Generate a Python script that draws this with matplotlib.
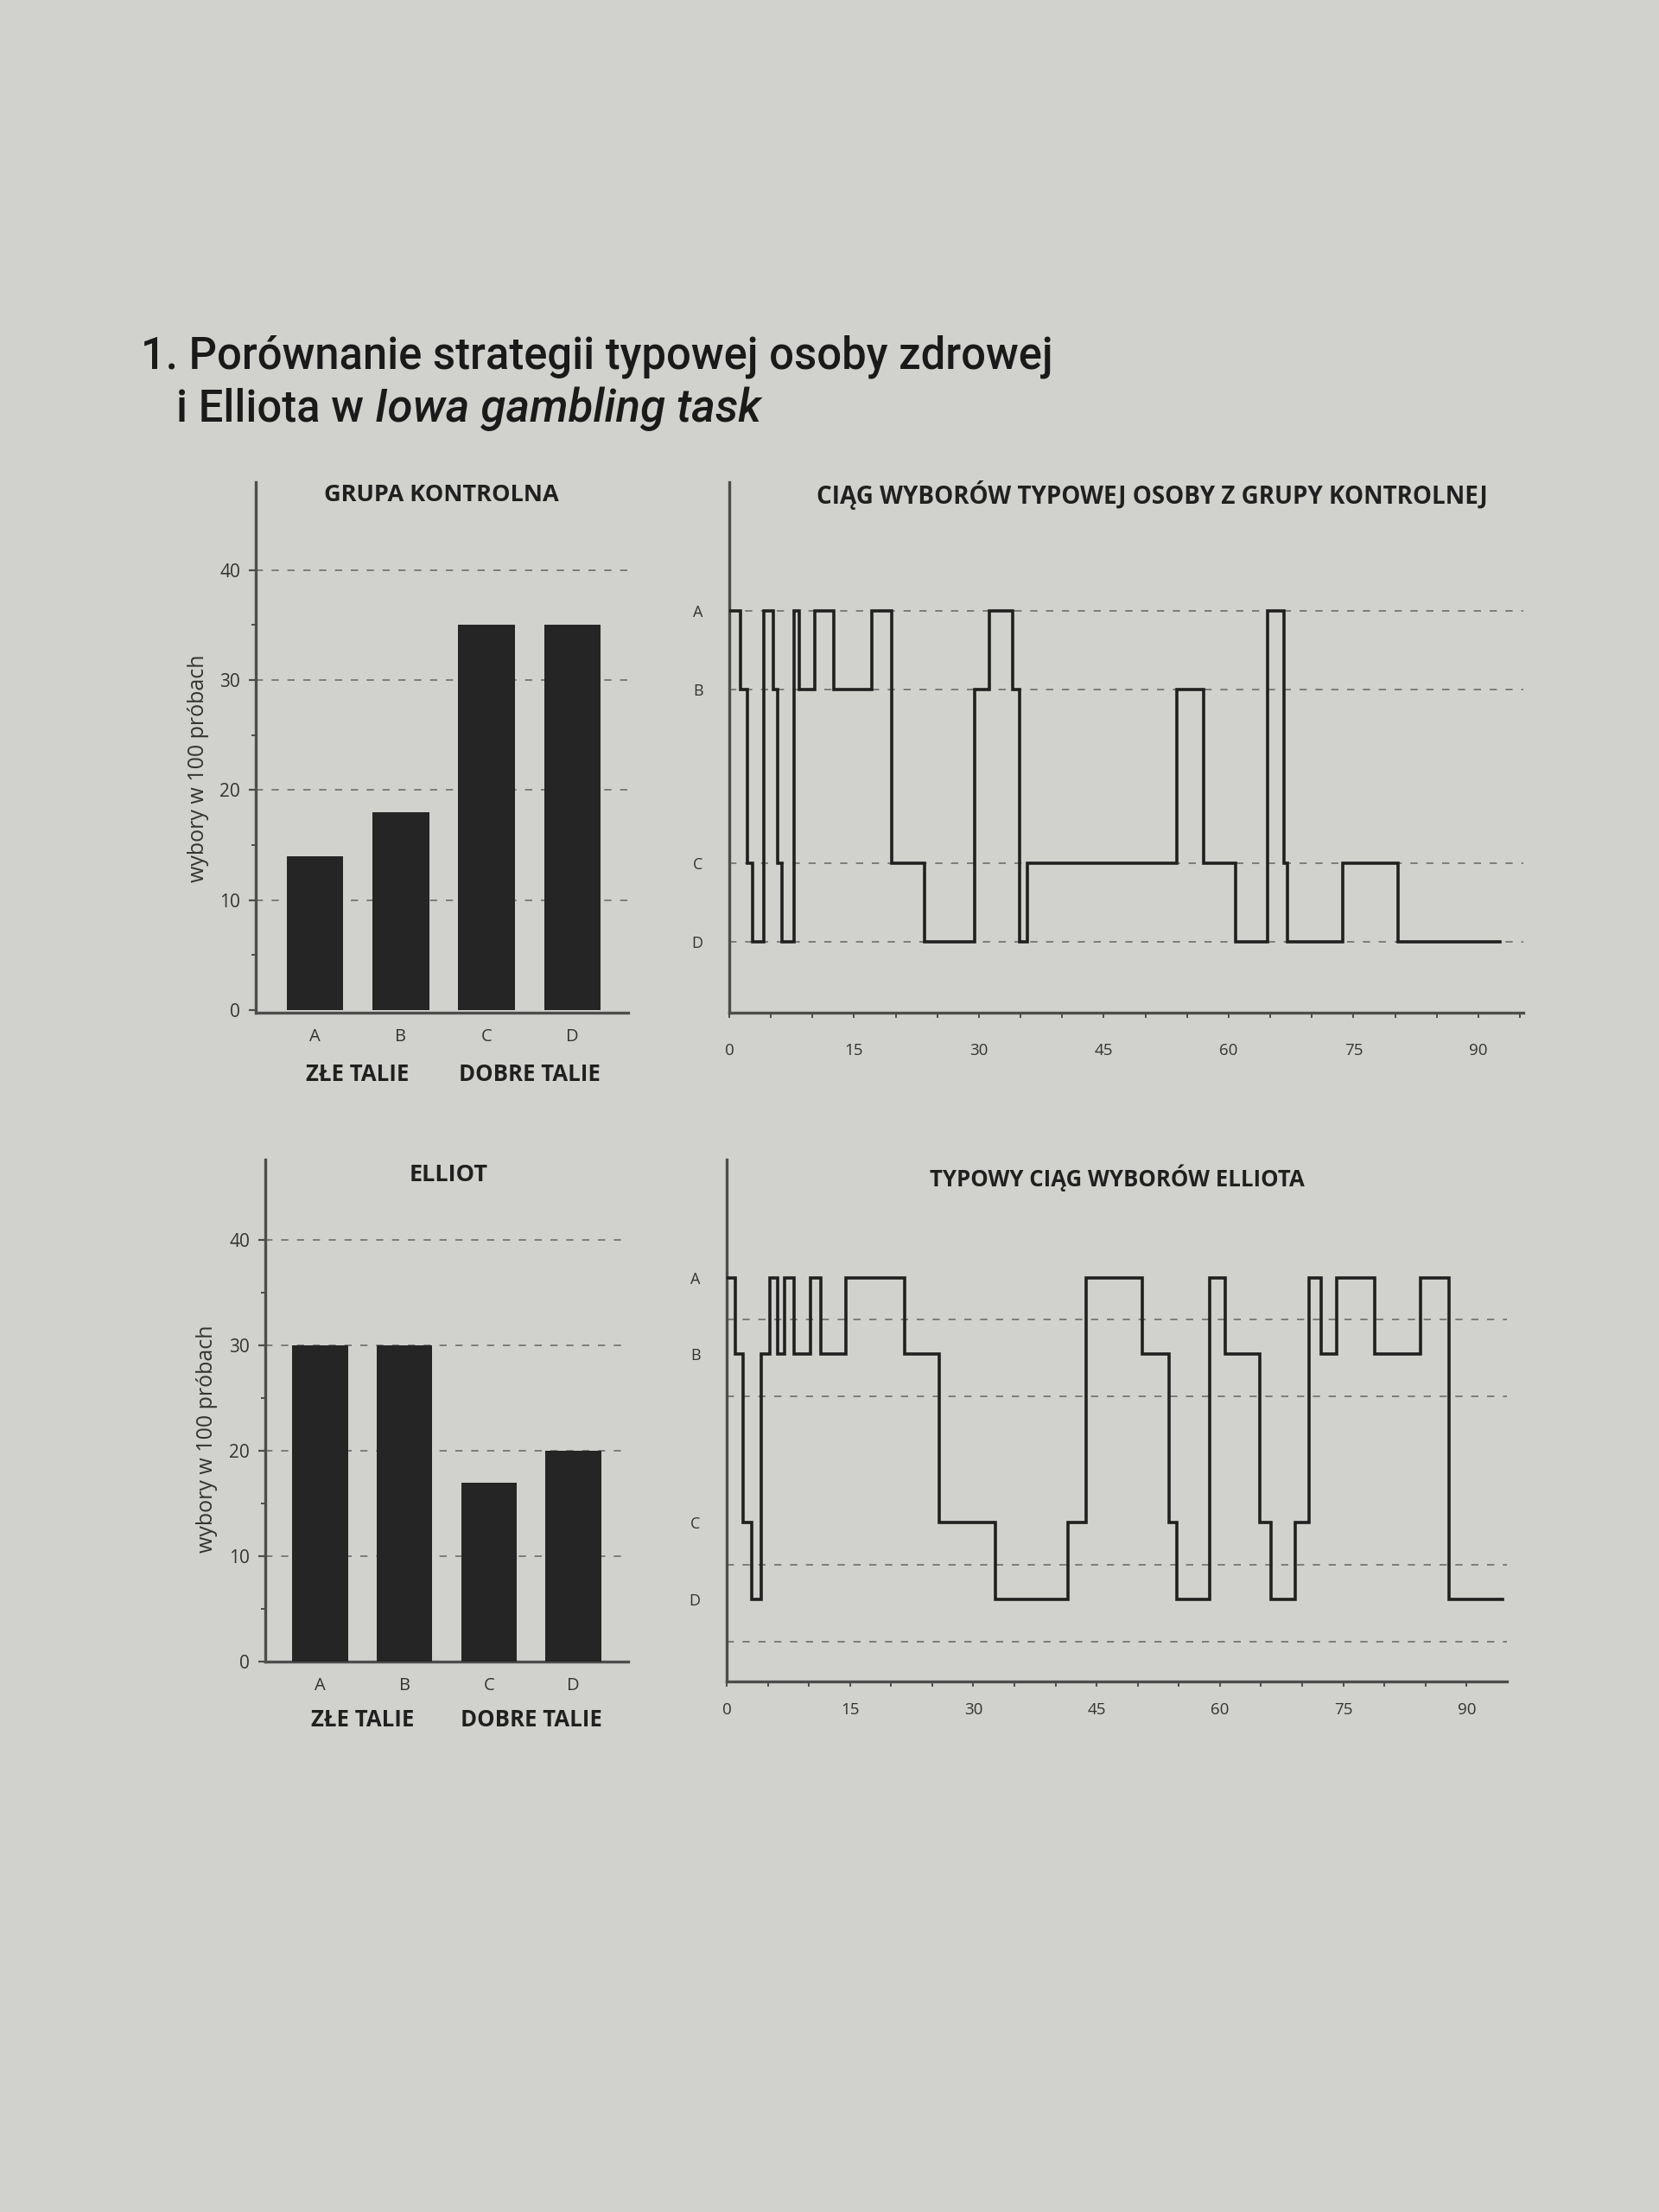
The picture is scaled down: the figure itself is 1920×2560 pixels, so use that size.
import matplotlib
matplotlib.use('Agg')
import matplotlib.pyplot as plt
from matplotlib.ticker import MultipleLocator, FixedLocator
import matplotlib.transforms as mtransforms

# dane: liczba wyborów z każdej talii w 100 próbach
decks = ['A', 'B', 'C', 'D']
control_counts = [14, 18, 35, 35]
elliot_counts = [30, 30, 17, 20]
bar_ticks = [0, 10, 20, 30, 40]
group_labels = ['ZŁE TALIE', 'DOBRE TALIE']

# ciągi wyborów: próba, od której wybierana jest dana talia (ostatni punkt = koniec)
control_trials = [0, 1.3, 2.2, 2.8, 4.2, 5.3, 5.8, 6.3, 7.8, 8.4,
                  10.3, 12.6, 17.1, 19.5, 23.5, 29.5, 31.2, 34.0, 34.9, 35.8,
                  53.8, 57.0, 60.8, 64.7, 66.6, 67.1, 73.7, 80.3, 92.6]
control_choices = ['A', 'B', 'C', 'D', 'A', 'B', 'C', 'D', 'A', 'B',
                   'A', 'B', 'A', 'C', 'D', 'B', 'A', 'B', 'D', 'C',
                   'B', 'C', 'D', 'A', 'C', 'D', 'C', 'D', 'D']
elliot_trials = [0, 1.0, 2.0, 3.0, 4.2, 5.3, 6.2, 7.0, 8.2, 10.2,
                 11.5, 14.5, 21.7, 25.9, 32.7, 41.5, 43.7, 50.6, 53.8, 54.8,
                 58.7, 60.6, 64.8, 66.2, 69.1, 70.8, 72.3, 74.2, 78.8, 84.4,
                 87.9, 94.4]
elliot_choices = ['A', 'B', 'C', 'D', 'B', 'A', 'B', 'A', 'B', 'A',
                  'B', 'A', 'B', 'C', 'D', 'C', 'A', 'B', 'C', 'D',
                  'A', 'B', 'C', 'D', 'C', 'A', 'B', 'A', 'B', 'A',
                  'D', 'D']
trial_ticks = [0, 15, 30, 45, 60, 75, 90]

# położenie talii na osi pionowej wykresów ciągu wyborów
deck_pos = {'A': 4.2, 'B': 3.2, 'C': 1.0, 'D': 0.0}

paper = '#d1d1cd'
ink = '#202020'
axis_col = '#4d4d4d'
grid_col = '#6e6e6e'
sans = ['Open Sans', 'DejaVu Sans']
head = ['Roboto', 'DejaVu Sans']

W, H = 1920, 2560
fig = plt.figure(figsize=(W / 100, H / 100), dpi=100, facecolor=paper)


def rect(left, top, right, bottom):
    return [left / W, 1 - bottom / H, (right - left) / W, (bottom - top) / H]


def style_axes(ax):
    ax.set_facecolor('none')
    for s in ['top', 'right']:
        ax.spines[s].set_visible(False)
    for s in ['left', 'bottom']:
        ax.spines[s].set_color(axis_col)
        ax.spines[s].set_linewidth(2.4)


def bar_panel(ax, counts, title, ylim, xlim, title_xy, label_xy):
    style_axes(ax)
    x = range(len(decks))
    ax.bar(x, counts, width=0.66, color='#252525', zorder=3)
    ax.set_xlim(*xlim)
    ax.set_ylim(*ylim)
    ax.yaxis.set_major_locator(FixedLocator(bar_ticks))
    ax.yaxis.set_minor_locator(FixedLocator([5, 15, 25, 35]))
    ax.tick_params(axis='y', which='major', length=6, width=1.6, color=axis_col,
                   labelsize=15, labelcolor='#333333', pad=7)
    ax.tick_params(axis='y', which='minor', length=3.5, width=1.4, color=axis_col)
    for lab in ax.get_yticklabels():
        lab.set_family(sans)
    ax.set_xticks(list(x))
    ax.set_xticklabels(decks, family=sans, fontsize=14.5, color='#333333')
    ax.tick_params(axis='x', length=0, pad=13)
    for y in bar_ticks[1:]:
        ax.axhline(y, color=grid_col, lw=1.2, ls=(0, (5, 6)), zorder=1)
    tr = mtransforms.blended_transform_factory(ax.transData, ax.transAxes)
    ax.text(0.5, -0.117, group_labels[0], transform=tr, ha='center', va='center',
            fontsize=18.5, fontweight='bold', family=sans, color=ink)
    ax.text(2.5, -0.117, group_labels[1], transform=tr, ha='center', va='center',
            fontsize=18.5, fontweight='bold', family=sans, color=ink)
    ax.set_ylabel('wybory w 100 próbach', family=sans, fontsize=18, color='#333333')
    ax.yaxis.set_label_coords(*label_xy)
    fig.text(title_xy[0] / W, 1 - title_xy[1] / H, title, ha='center', va='center',
             fontsize=19.5, fontweight='bold', family=sans, color=ink)


def step_panel(ax, trials, choices, title, ylim, xmax, grid_offset, title_xy,
               title_size, xpad):
    style_axes(ax)
    levels = [deck_pos[c] for c in choices]
    ax.step(trials, levels, where='post', color=ink, lw=2.6, zorder=3,
            solid_joinstyle='miter')
    ax.set_xlim(0, xmax)
    ax.set_ylim(*ylim)
    ax.set_yticks([deck_pos[d] for d in decks])
    ax.set_yticklabels(decks, family=sans, fontsize=13, color='#333333')
    ax.tick_params(axis='y', length=0, pad=22)
    for d in decks:
        ax.axhline(deck_pos[d] - grid_offset, color=grid_col, lw=1.2,
                   ls=(0, (5, 6)), zorder=1)
    ax.xaxis.set_major_locator(FixedLocator(trial_ticks))
    ax.xaxis.set_minor_locator(MultipleLocator(5))
    ax.tick_params(axis='x', which='both', length=4, width=1.4, color=axis_col,
                   labelsize=13.5, labelcolor='#333333', pad=xpad)
    for lab in ax.get_xticklabels():
        lab.set_family(sans)
    fig.text(title_xy[0] / W, 1 - title_xy[1] / H, title, ha='center', va='center',
             fontsize=title_size, fontweight='bold', family=sans, color=ink)


ax1 = fig.add_axes(rect(296, 558, 727, 1172))
bar_panel(ax1, control_counts, 'GRUPA KONTROLNA', (-0.25, 48), (-0.69, 3.65),
          (511, 573), (-0.125, 0.46))

ax2 = fig.add_axes(rect(844, 558, 1763, 1172))
step_panel(ax2, control_trials, control_choices,
           'CIĄG WYBORÓW TYPOWEJ OSOBY Z GRUPY KONTROLNEJ',
           (-0.9, 5.83), 95.4, 0.0, (1333, 573), 20, 21)

ax3 = fig.add_axes(rect(307, 1342, 727, 1923))
bar_panel(ax3, elliot_counts, 'ELLIOT', (0, 47.6), (-0.65, 3.65), (519, 1360),
          (-0.13, 0.444))

ax4 = fig.add_axes(rect(841, 1342, 1744, 1946))
step_panel(ax4, elliot_trials, elliot_choices, 'TYPOWY CIĄG WYBORÓW ELLIOTA',
           (-1.07, 5.74), 94.9, 0.55, (1293, 1363), 18.5, 13)

# tytuł ryciny
fig.text(163 / W, 1 - 413 / H, '1. Porównanie strategii typowej osoby zdrowej',
         ha='left', va='center', fontsize=36.5, fontweight='medium', family=head,
         color='#1a1a1a')
t2 = fig.text(204 / W, 1 - 473 / H, 'i Elliota w ', ha='left', va='center',
              fontsize=36.5, fontweight='medium', family=head, color='#1a1a1a')
renderer = fig.canvas.get_renderer()
bb = t2.get_window_extent(renderer=renderer)
fig.text(bb.x1 / W, 1 - 473 / H, 'Iowa gambling task', ha='left', va='center',
         fontsize=38, fontweight='medium', style='italic', family=head,
         color='#1a1a1a')

fig.savefig('out.png', dpi=100, facecolor=paper)
